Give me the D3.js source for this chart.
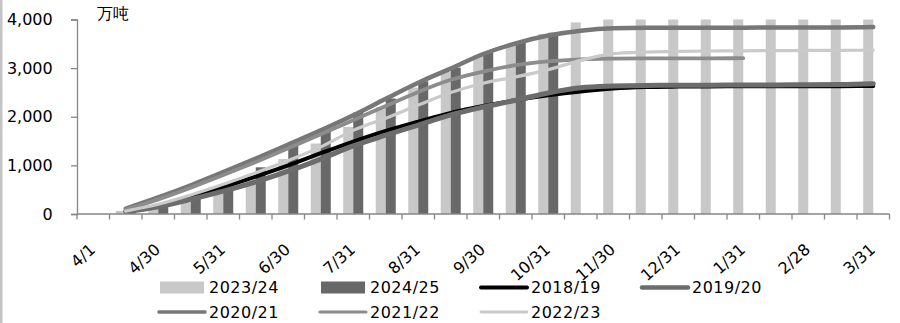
<!DOCTYPE html>
<html>
<head>
<meta charset="utf-8">
<script src="https://cdn.jsdelivr.net/npm/d3@7"></script>
<style>
  body { margin: 0; background: #fff; }
  svg { display: block; }
  text { font-family: "DejaVu Sans", sans-serif; fill: #000; }
</style>
</head>
<body>
<svg id="chart" width="900" height="323"></svg>
<script>
// Semi-monthly reporting dates of the season (April to March)
const categories = ["4/1","4/15","4/30","5/15","5/31","6/15","6/30","7/15","7/31","8/15","8/31","9/15","9/30",
  "10/15","10/31","11/15","11/30","12/15","12/31","1/15","1/31","2/15","2/28","3/15","3/31"];
const yTicks = [0, 1000, 2000, 3000, 4000];
const unitLabel = "万吨";

// Cumulative output, 万吨 (bars)
const s2023_24 = [null, 65, 120, 260, 440, 780, 1130, 1450, 1790, 2200, 2600, 2920, 3260, 3500, 3705, 3940,
  4070, 4140, 4190, 4215, 4228, 4235, 4238, 4240, 4242];
const s2024_25 = [null, 80, 150, 320, 620, 960, 1400, 1720, 2085, 2375, 2730, 3010, 3315, 3555, 3727,
  null, null, null, null, null, null, null, null, null, null];

// Cumulative output, 万吨 (lines)
const s2018_19 = [null, 60, 170, 330, 550, 770, 1000, 1250, 1490, 1710, 1900, 2080, 2220, 2340, 2440, 2520,
  2580, 2610, 2620, 2624, 2626, 2627, 2628, 2629, 2632];
const s2019_20 = [null, 50, 150, 300, 470, 660, 880, 1130, 1400, 1620, 1830, 2040, 2200, 2340, 2490, 2595,
  2630, 2645, 2648, 2650, 2652, 2655, 2658, 2662, 2680];
const s2020_21 = [null, 110, 340, 590, 860, 1140, 1430, 1720, 2030, 2370, 2700, 2990, 3290, 3510, 3670, 3770,
  3820, 3830, 3830, 3830, 3832, 3834, 3836, 3838, 3846];
const s2021_22 = [null, 90, 300, 540, 800, 1070, 1350, 1640, 1930, 2220, 2510, 2760, 2930, 3060, 3140, 3180,
  3195, 3200, 3200, 3200, 3205, null, null, null, null];
const s2022_23 = [null, 60, 200, 390, 610, 850, 1100, 1380, 1720, 1970, 2240, 2500, 2690, 2820, 2970, 3160,
  3300, 3330, 3345, 3352, 3356, 3360, 3363, 3366, 3370];

const barSeries = [
  { name: "2023/24", values: s2023_24, color: "#c8c8c8" },
  { name: "2024/25", values: s2024_25, color: "#686868" }
];
const lineSeries = [
  { name: "2018/19", values: s2018_19, color: "#000000", width: 4 },
  { name: "2019/20", values: s2019_20, color: "#6c6c6c", width: 5 },
  { name: "2020/21", values: s2020_21, color: "#777777", width: 4.5 },
  { name: "2021/22", values: s2021_22, color: "#8c8c8c", width: 3.8 },
  { name: "2022/23", values: s2022_23, color: "#cacaca", width: 3.2 }
];

const svg = d3.select("#chart");
const axisColor = "#868686";

// thin frame edge on the left
svg.append("rect").attr("x", 0).attr("y", 0).attr("width", 2.5).attr("height", 323).attr("fill", "#c4c4c4");

const x = d3.scaleBand().domain(categories).range([77, 889.5]).paddingInner(0).paddingOuter(0);
const xSub = d3.scaleBand().domain(barSeries.map(s => s.name)).range([0, x.bandwidth()])
  .paddingInner(0).paddingOuter(0.625);
const y = d3.scaleLinear().domain([0, 4000]).range([214, 19.5]);

// plot area clip
svg.append("clipPath").attr("id", "plot")
  .append("rect")
  .attr("x", x.range()[0]).attr("y", y(4000))
  .attr("width", x.range()[1] - x.range()[0]).attr("height", y(0) - y(4000));

// Y axis
const yAxis = svg.append("g").attr("transform", `translate(${x.range()[0]},0)`)
  .call(d3.axisLeft(y).tickValues(yTicks).tickSize(6).tickPadding(18.3).tickFormat(d3.format(",")));
yAxis.select(".domain").attr("stroke", axisColor).attr("stroke-width", 1.3);
yAxis.selectAll(".tick line").attr("stroke", axisColor).attr("stroke-width", 1.3);
yAxis.selectAll(".tick text").attr("font-size", 16).attr("font-family", "DejaVu Sans").attr("fill", "#000");

// unit label
svg.append("text").attr("x", 97).attr("y", 19).attr("font-size", 16)
  .attr("font-family", "'Noto Sans CJK SC', sans-serif").text(unitLabel);

// Bars
const plot = svg.append("g").attr("clip-path", "url(#plot)");
barSeries.forEach(s => {
  plot.append("g").selectAll("rect")
    .data(categories.map((c, i) => ({ c, v: s.values[i] })).filter(d => d.v != null))
    .join("rect")
    .attr("x", d => x(d.c) + xSub(s.name))
    .attr("width", xSub.bandwidth())
    .attr("y", d => y(d.v))
    .attr("height", d => y(0) - y(d.v))
    .attr("fill", s.color);
});

// Lines
const line = d3.line()
  .defined(d => d.v != null)
  .x(d => x(d.c) + x.bandwidth() / 2)
  .y(d => y(d.v))
  .curve(d3.curveMonotoneX);
lineSeries.forEach(s => {
  plot.append("path")
    .datum(categories.map((c, i) => ({ c, v: s.values[i] })))
    .attr("d", line)
    .attr("fill", "none")
    .attr("stroke", s.color)
    .attr("stroke-width", s.width)
    .attr("stroke-linejoin", "round")
    .attr("stroke-linecap", "round");
});

// X axis: line, boundary ticks, labels on every other date
const xg = svg.append("g");
xg.append("line").attr("x1", x.range()[0]).attr("x2", x.range()[1])
  .attr("y1", y(0)).attr("y2", y(0)).attr("stroke", axisColor).attr("stroke-width", 1.3);
const bounds = d3.range(categories.length + 1).map(i => x.range()[0] + i * x.step());
xg.selectAll("line.tk").data(bounds).join("line").attr("class", "tk")
  .attr("x1", d => d).attr("x2", d => d).attr("y1", y(0)).attr("y2", y(0) + 5.5)
  .attr("stroke", axisColor).attr("stroke-width", 1.3);
xg.selectAll("text").data(categories.filter((c, i) => i % 2 === 0)).join("text")
  .attr("transform", d => `translate(${x(d) + x.bandwidth() / 2 + 3},251) rotate(-42)`)
  .attr("text-anchor", "end")
  .attr("font-size", 16)
  .text(d => d);

// Legend
const legendItems = [
  { name: "2023/24", kind: "bar", color: barSeries[0].color, col: 0, row: 0 },
  { name: "2024/25", kind: "bar", color: barSeries[1].color, col: 1, row: 0 },
  { name: "2018/19", kind: "line", color: lineSeries[0].color, w: 4, col: 2, row: 0 },
  { name: "2019/20", kind: "line", color: lineSeries[1].color, w: 4.5, col: 3, row: 0 },
  { name: "2020/21", kind: "line", color: lineSeries[2].color, w: 3.6, col: 0, row: 1 },
  { name: "2021/22", kind: "line", color: lineSeries[3].color, w: 3.2, col: 1, row: 1 },
  { name: "2022/23", kind: "line", color: lineSeries[4].color, w: 2.8, col: 2, row: 1 }
];
const colX = [160, 321, 482, 643];
const rowY = [287.5, 312];
const lg = svg.append("g");
legendItems.forEach(it => {
  const gx = colX[it.col], gy = rowY[it.row];
  if (it.kind === "bar") {
    lg.append("rect").attr("x", gx).attr("y", gy - 6).attr("width", 44).attr("height", 12).attr("fill", it.color);
  } else {
    lg.append("line").attr("x1", gx - 1).attr("x2", gx + 45).attr("y1", gy).attr("y2", gy)
      .attr("stroke", it.color).attr("stroke-width", it.w).attr("stroke-linecap", "round");
  }
  lg.append("text").attr("x", gx + 49).attr("y", gy).attr("dy", "0.36em")
    .attr("font-size", 16).attr("letter-spacing", 0.5).text(it.name);
});
</script>
</body>
</html>
